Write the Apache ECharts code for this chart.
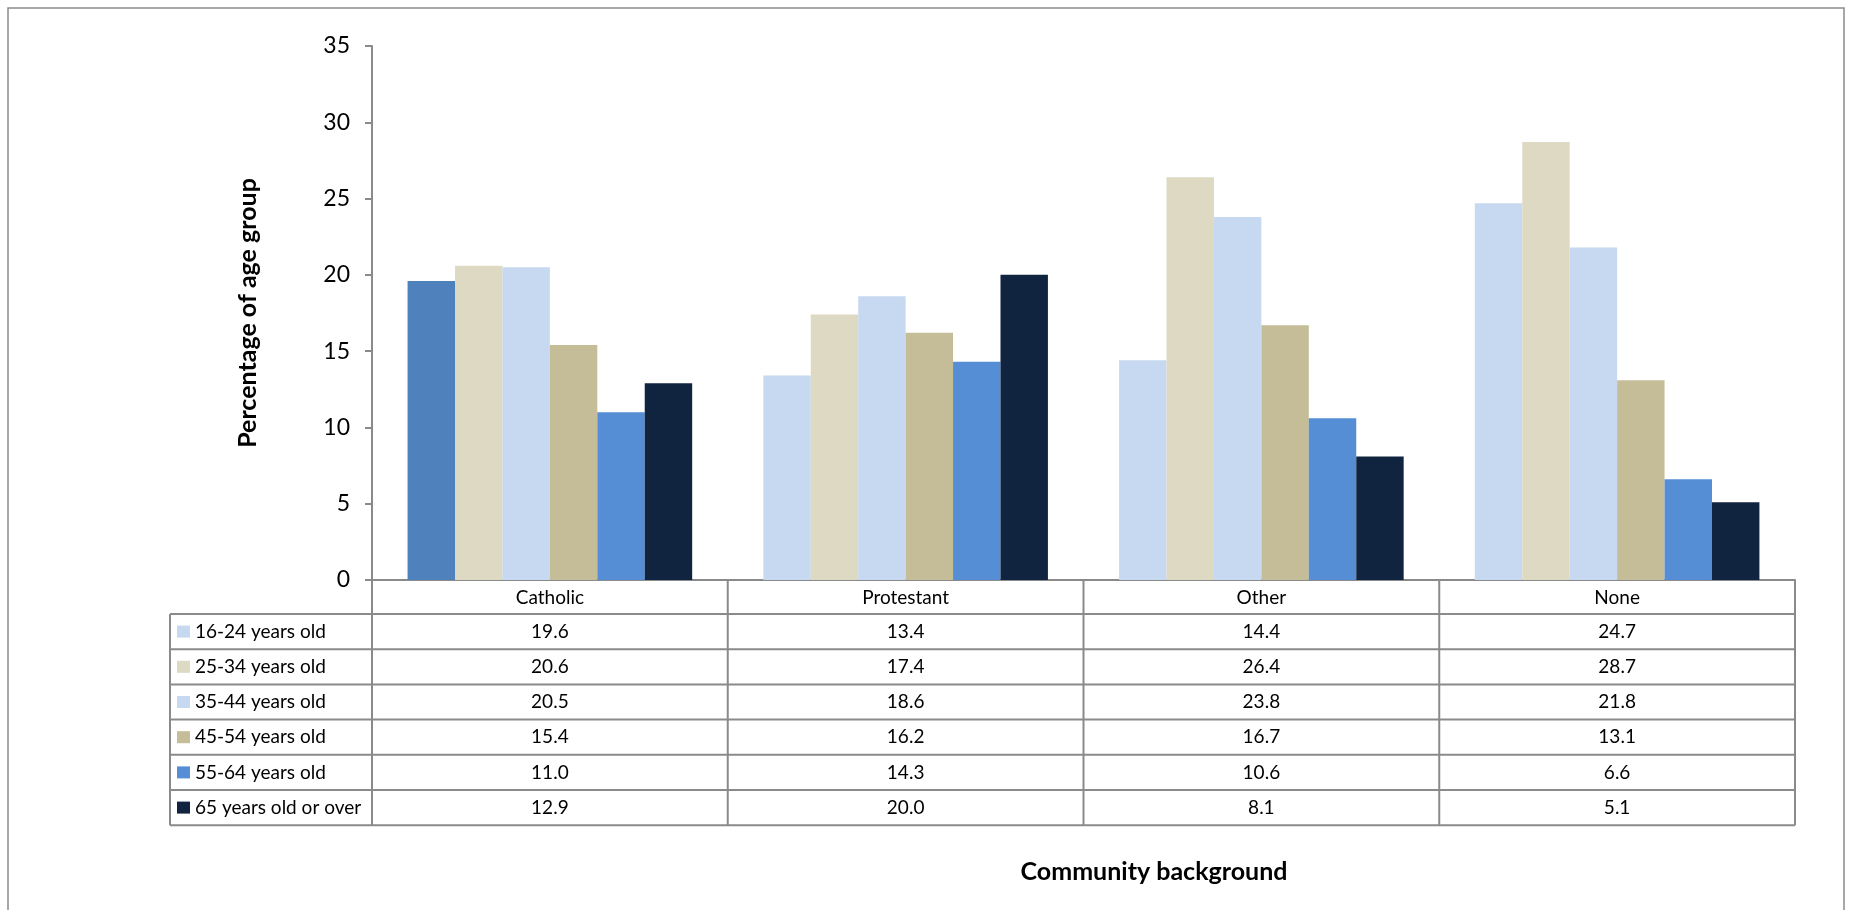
<!DOCTYPE html>
<html>
<head>
<meta charset="utf-8">
<script src="https://cdn.jsdelivr.net/npm/echarts@6/dist/echarts.min.js"></script>
<style>
  html, body { margin: 0; padding: 0; background: #fff; }
  #chart { width: 1860px; height: 910px; }
</style>
</head>
<body>
<div id="chart"></div>
<script>
// data
const categories = ['Catholic', 'Protestant', 'Other', 'None']
const ageGroups = ['16-24 years old', '25-34 years old', '35-44 years old', '45-54 years old', '55-64 years old', '65 years old or over']
const age16to24 = [19.6, 13.4, 14.4, 24.7]
const age25to34 = [20.6, 17.4, 26.4, 28.7]
const age35to44 = [20.5, 18.6, 23.8, 21.8]
const age45to54 = [15.4, 16.2, 16.7, 13.1]
const age55to64 = [11.0, 14.3, 10.6, 6.6]
const age65plus = [12.9, 20.0, 8.1, 5.1]
const yTicks = [0, 5, 10, 15, 20, 25, 30, 35]

const seriesData = [age16to24, age25to34, age35to44, age45to54, age55to64, age65plus]
const colors = ['#C6D9F1', '#DDD9C3', '#C6D9F1', '#C4BD97', '#558ED5', '#10243F']
// the first Catholic bar is drawn in a darker blue in the original
const highlightColor = '#4F81BD'

const font = 'Lato, "Open Sans", sans-serif'
const lineColor = '#8a8a8a'

// layout
const gridLeft = 372
const gridTop = 46
const gridWidth = 1423
const gridHeight = 534
const tableLeft = 170
const headerH = 34
const rowH = 35.2

const chart = echarts.init(document.getElementById('chart'))

const buildTable = () => {
  const els = []
  const axisY = gridTop + gridHeight
  const colW = gridWidth / categories.length
  const right = gridLeft + gridWidth
  const bodyTop = axisY + headerH
  const bottom = bodyTop + rowH * ageGroups.length
  const line = (x1, y1, x2, y2) => ({
    type: 'line',
    shape: { x1, y1, x2, y2 },
    style: { stroke: lineColor, lineWidth: 2 },
    z: 10
  })

  // vertical lines
  for (let i = 0; i <= categories.length; i++) {
    const x = gridLeft + i * colW
    els.push(line(x, axisY, x, bottom))
  }
  els.push(line(tableLeft, bodyTop, tableLeft, bottom))

  // horizontal lines
  for (let r = 0; r <= ageGroups.length; r++) {
    const y = bodyTop + r * rowH
    els.push(line(tableLeft, y, right, y))
  }

  // rows: legend key + values
  ageGroups.forEach((name, r) => {
    const cy = bodyTop + (r + 0.5) * rowH
    els.push({
      type: 'rect',
      shape: { x: tableLeft + 7, y: cy - 6, width: 13, height: 12 },
      style: { fill: colors[r] },
      z: 11
    })
    els.push({
      type: 'text',
      x: tableLeft + 25,
      y: cy,
      style: { text: name, font: '19px ' + font, fill: '#000', textAlign: 'left', textVerticalAlign: 'middle' },
      z: 11
    })
    seriesData[r].forEach((v, c) => {
      els.push({
        type: 'text',
        x: gridLeft + (c + 0.5) * colW,
        y: cy,
        style: { text: v.toFixed(1), font: '19px ' + font, fill: '#000', textAlign: 'center', textVerticalAlign: 'middle' },
        z: 11
      })
    })
  })

  // x axis title
  els.push({
    type: 'text',
    x: 1154,
    y: 872,
    style: { text: 'Community background', font: 'bold 25px ' + font, fill: '#000', textAlign: 'center', textVerticalAlign: 'middle' }
  })

  // outer frame
  els.push({
    type: 'rect',
    shape: { x: 8, y: 8, width: 1836, height: 930 },
    style: { fill: 'none', stroke: lineColor, lineWidth: 1.5 },
    z: 0
  })
  return els
}

const option = {
  animation: false,
  backgroundColor: '#fff',
  grid: { left: gridLeft, top: gridTop, width: gridWidth, height: gridHeight },
  xAxis: {
    type: 'category',
    data: categories,
    axisLine: { lineStyle: { color: lineColor, width: 2 } },
    axisTick: { show: false },
    axisLabel: { color: '#000', fontSize: 19, fontFamily: font, margin: 8 }
  },
  yAxis: {
    type: 'value',
    min: yTicks[0],
    max: yTicks[yTicks.length - 1],
    interval: 5,
    name: 'Percentage of age group',
    nameLocation: 'middle',
    nameGap: 112,
    nameRotate: 90,
    nameTextStyle: { color: '#000', fontSize: 25, fontWeight: 'bold', fontFamily: font },
    axisLine: { show: true, lineStyle: { color: lineColor, width: 2 } },
    axisTick: { show: true, length: 7, lineStyle: { color: lineColor, width: 2 } },
    axisLabel: { color: '#000', fontSize: 23, fontFamily: font, margin: 22 },
    splitLine: { show: false }
  },
  series: seriesData.map((vals, i) => ({
    name: ageGroups[i],
    type: 'bar',
    barGap: 0,
    barCategoryGap: '20%',
    itemStyle: { color: colors[i] },
    data: vals.map((v, c) => (i === 0 && c === 0)
      ? { value: v, itemStyle: { color: highlightColor } }
      : v)
  })),
  graphic: buildTable()
}

chart.setOption(option)
</script>
</body>
</html>
